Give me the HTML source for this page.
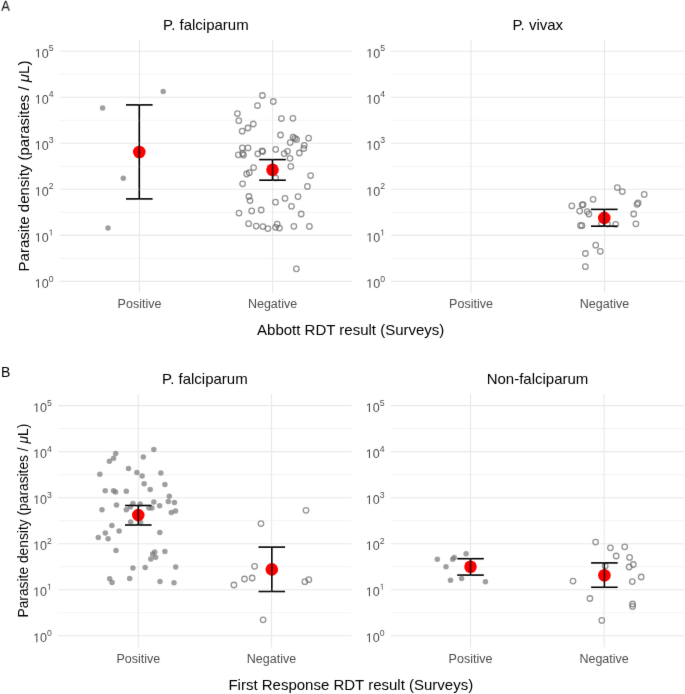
<!DOCTYPE html>
<html><head><meta charset="utf-8"><style>html,body{margin:0;padding:0;background:#fff;width:685px;height:694px;overflow:hidden}</style></head>
<body>
<svg width="685" height="694" viewBox="0 0 685 694" style="display:block;will-change:transform;font-family:'Liberation Sans', sans-serif">
<defs><filter id="bl" x="-5%" y="-5%" width="110%" height="110%"><feConvolveMatrix order="3" kernelMatrix="0.0052 0.0619 0.0052 0.0619 0.7314 0.0619 0.0052 0.0619 0.0052" edgeMode="duplicate" preserveAlpha="false"/></filter></defs>
<rect width="685" height="694" fill="#fff"/>
<g filter="url(#bl)">
<line x1="59.7" x2="352.3" y1="281.40" y2="281.40" stroke="#e8e8e8" stroke-width="1.1"/><line x1="59.7" x2="352.3" y1="235.36" y2="235.36" stroke="#e8e8e8" stroke-width="1.1"/><line x1="59.7" x2="352.3" y1="189.32" y2="189.32" stroke="#e8e8e8" stroke-width="1.1"/><line x1="59.7" x2="352.3" y1="143.28" y2="143.28" stroke="#e8e8e8" stroke-width="1.1"/><line x1="59.7" x2="352.3" y1="97.24" y2="97.24" stroke="#e8e8e8" stroke-width="1.1"/><line x1="59.7" x2="352.3" y1="51.20" y2="51.20" stroke="#e8e8e8" stroke-width="1.1"/><line x1="59.7" x2="352.3" y1="258.38" y2="258.38" stroke="#ededed" stroke-width="0.6"/><line x1="59.7" x2="352.3" y1="212.34" y2="212.34" stroke="#ededed" stroke-width="0.6"/><line x1="59.7" x2="352.3" y1="166.30" y2="166.30" stroke="#ededed" stroke-width="0.6"/><line x1="59.7" x2="352.3" y1="120.26" y2="120.26" stroke="#ededed" stroke-width="0.6"/><line x1="59.7" x2="352.3" y1="74.22" y2="74.22" stroke="#ededed" stroke-width="0.6"/><line x1="139.5" x2="139.5" y1="40.0" y2="292.9" stroke="#e8e8e8" stroke-width="1.1"/><line x1="272.6" x2="272.6" y1="40.0" y2="292.9" stroke="#e8e8e8" stroke-width="1.1"/>
<line x1="391.2" x2="684.4" y1="281.40" y2="281.40" stroke="#e8e8e8" stroke-width="1.1"/><line x1="391.2" x2="684.4" y1="235.36" y2="235.36" stroke="#e8e8e8" stroke-width="1.1"/><line x1="391.2" x2="684.4" y1="189.32" y2="189.32" stroke="#e8e8e8" stroke-width="1.1"/><line x1="391.2" x2="684.4" y1="143.28" y2="143.28" stroke="#e8e8e8" stroke-width="1.1"/><line x1="391.2" x2="684.4" y1="97.24" y2="97.24" stroke="#e8e8e8" stroke-width="1.1"/><line x1="391.2" x2="684.4" y1="51.20" y2="51.20" stroke="#e8e8e8" stroke-width="1.1"/><line x1="391.2" x2="684.4" y1="258.38" y2="258.38" stroke="#ededed" stroke-width="0.6"/><line x1="391.2" x2="684.4" y1="212.34" y2="212.34" stroke="#ededed" stroke-width="0.6"/><line x1="391.2" x2="684.4" y1="166.30" y2="166.30" stroke="#ededed" stroke-width="0.6"/><line x1="391.2" x2="684.4" y1="120.26" y2="120.26" stroke="#ededed" stroke-width="0.6"/><line x1="391.2" x2="684.4" y1="74.22" y2="74.22" stroke="#ededed" stroke-width="0.6"/><line x1="471.0" x2="471.0" y1="40.0" y2="292.9" stroke="#e8e8e8" stroke-width="1.1"/><line x1="604.5" x2="604.5" y1="40.0" y2="292.9" stroke="#e8e8e8" stroke-width="1.1"/>
<line x1="58.1" x2="351.7" y1="635.80" y2="635.80" stroke="#e8e8e8" stroke-width="1.1"/><line x1="58.1" x2="351.7" y1="589.76" y2="589.76" stroke="#e8e8e8" stroke-width="1.1"/><line x1="58.1" x2="351.7" y1="543.72" y2="543.72" stroke="#e8e8e8" stroke-width="1.1"/><line x1="58.1" x2="351.7" y1="497.68" y2="497.68" stroke="#e8e8e8" stroke-width="1.1"/><line x1="58.1" x2="351.7" y1="451.64" y2="451.64" stroke="#e8e8e8" stroke-width="1.1"/><line x1="58.1" x2="351.7" y1="405.60" y2="405.60" stroke="#e8e8e8" stroke-width="1.1"/><line x1="58.1" x2="351.7" y1="612.78" y2="612.78" stroke="#ededed" stroke-width="0.6"/><line x1="58.1" x2="351.7" y1="566.74" y2="566.74" stroke="#ededed" stroke-width="0.6"/><line x1="58.1" x2="351.7" y1="520.70" y2="520.70" stroke="#ededed" stroke-width="0.6"/><line x1="58.1" x2="351.7" y1="474.66" y2="474.66" stroke="#ededed" stroke-width="0.6"/><line x1="58.1" x2="351.7" y1="428.62" y2="428.62" stroke="#ededed" stroke-width="0.6"/><line x1="138.3" x2="138.3" y1="394.2" y2="647.3" stroke="#e8e8e8" stroke-width="1.1"/><line x1="271.5" x2="271.5" y1="394.2" y2="647.3" stroke="#e8e8e8" stroke-width="1.1"/>
<line x1="390.7" x2="684.3" y1="635.80" y2="635.80" stroke="#e8e8e8" stroke-width="1.1"/><line x1="390.7" x2="684.3" y1="589.76" y2="589.76" stroke="#e8e8e8" stroke-width="1.1"/><line x1="390.7" x2="684.3" y1="543.72" y2="543.72" stroke="#e8e8e8" stroke-width="1.1"/><line x1="390.7" x2="684.3" y1="497.68" y2="497.68" stroke="#e8e8e8" stroke-width="1.1"/><line x1="390.7" x2="684.3" y1="451.64" y2="451.64" stroke="#e8e8e8" stroke-width="1.1"/><line x1="390.7" x2="684.3" y1="405.60" y2="405.60" stroke="#e8e8e8" stroke-width="1.1"/><line x1="390.7" x2="684.3" y1="612.78" y2="612.78" stroke="#ededed" stroke-width="0.6"/><line x1="390.7" x2="684.3" y1="566.74" y2="566.74" stroke="#ededed" stroke-width="0.6"/><line x1="390.7" x2="684.3" y1="520.70" y2="520.70" stroke="#ededed" stroke-width="0.6"/><line x1="390.7" x2="684.3" y1="474.66" y2="474.66" stroke="#ededed" stroke-width="0.6"/><line x1="390.7" x2="684.3" y1="428.62" y2="428.62" stroke="#ededed" stroke-width="0.6"/><line x1="470.5" x2="470.5" y1="394.2" y2="647.3" stroke="#e8e8e8" stroke-width="1.1"/><line x1="604.1" x2="604.1" y1="394.2" y2="647.3" stroke="#e8e8e8" stroke-width="1.1"/>
<path d="M515 0L515 1237L197 1010L197 1180L530 1409L696 1409L696 0Z" transform="translate(34.758,287.800) scale(0.00610,-0.00610)" fill="#4d4d4d" stroke="#4d4d4d" stroke-width="0"/><text x="41.710" y="287.800" font-size="12.5" fill="#4d4d4d" stroke="#4d4d4d" stroke-width="0">0</text><text x="48.661" y="281.500" font-size="8.7" fill="#4d4d4d" stroke="#4d4d4d" stroke-width="0">0</text>
<path d="M515 0L515 1237L197 1010L197 1180L530 1409L696 1409L696 0Z" transform="translate(34.758,241.760) scale(0.00610,-0.00610)" fill="#4d4d4d" stroke="#4d4d4d" stroke-width="0"/><text x="41.710" y="241.760" font-size="12.5" fill="#4d4d4d" stroke="#4d4d4d" stroke-width="0">0</text><path d="M515 0L515 1237L197 1010L197 1180L530 1409L696 1409L696 0Z" transform="translate(48.661,235.460) scale(0.00425,-0.00425)" fill="#4d4d4d" stroke="#4d4d4d" stroke-width="0"/>
<path d="M515 0L515 1237L197 1010L197 1180L530 1409L696 1409L696 0Z" transform="translate(34.758,195.720) scale(0.00610,-0.00610)" fill="#4d4d4d" stroke="#4d4d4d" stroke-width="0"/><text x="41.710" y="195.720" font-size="12.5" fill="#4d4d4d" stroke="#4d4d4d" stroke-width="0">0</text><text x="48.661" y="189.420" font-size="8.7" fill="#4d4d4d" stroke="#4d4d4d" stroke-width="0">2</text>
<path d="M515 0L515 1237L197 1010L197 1180L530 1409L696 1409L696 0Z" transform="translate(34.758,149.680) scale(0.00610,-0.00610)" fill="#4d4d4d" stroke="#4d4d4d" stroke-width="0"/><text x="41.710" y="149.680" font-size="12.5" fill="#4d4d4d" stroke="#4d4d4d" stroke-width="0">0</text><text x="48.661" y="143.380" font-size="8.7" fill="#4d4d4d" stroke="#4d4d4d" stroke-width="0">3</text>
<path d="M515 0L515 1237L197 1010L197 1180L530 1409L696 1409L696 0Z" transform="translate(34.758,103.640) scale(0.00610,-0.00610)" fill="#4d4d4d" stroke="#4d4d4d" stroke-width="0"/><text x="41.710" y="103.640" font-size="12.5" fill="#4d4d4d" stroke="#4d4d4d" stroke-width="0">0</text><text x="48.661" y="97.340" font-size="8.7" fill="#4d4d4d" stroke="#4d4d4d" stroke-width="0">4</text>
<path d="M515 0L515 1237L197 1010L197 1180L530 1409L696 1409L696 0Z" transform="translate(34.758,57.600) scale(0.00610,-0.00610)" fill="#4d4d4d" stroke="#4d4d4d" stroke-width="0"/><text x="41.710" y="57.600" font-size="12.5" fill="#4d4d4d" stroke="#4d4d4d" stroke-width="0">0</text><text x="48.661" y="51.300" font-size="8.7" fill="#4d4d4d" stroke="#4d4d4d" stroke-width="0">5</text>
<text x="139.5" y="308.3" text-anchor="middle" font-size="12.5" fill="#4d4d4d" stroke="#4d4d4d" stroke-width="0">Positive</text>
<text x="272.6" y="308.3" text-anchor="middle" font-size="12.5" fill="#4d4d4d" stroke="#4d4d4d" stroke-width="0">Negative</text>
<path d="M515 0L515 1237L197 1010L197 1180L530 1409L696 1409L696 0Z" transform="translate(366.258,287.800) scale(0.00610,-0.00610)" fill="#4d4d4d" stroke="#4d4d4d" stroke-width="0"/><text x="373.210" y="287.800" font-size="12.5" fill="#4d4d4d" stroke="#4d4d4d" stroke-width="0">0</text><text x="380.161" y="281.500" font-size="8.7" fill="#4d4d4d" stroke="#4d4d4d" stroke-width="0">0</text>
<path d="M515 0L515 1237L197 1010L197 1180L530 1409L696 1409L696 0Z" transform="translate(366.258,241.760) scale(0.00610,-0.00610)" fill="#4d4d4d" stroke="#4d4d4d" stroke-width="0"/><text x="373.210" y="241.760" font-size="12.5" fill="#4d4d4d" stroke="#4d4d4d" stroke-width="0">0</text><path d="M515 0L515 1237L197 1010L197 1180L530 1409L696 1409L696 0Z" transform="translate(380.161,235.460) scale(0.00425,-0.00425)" fill="#4d4d4d" stroke="#4d4d4d" stroke-width="0"/>
<path d="M515 0L515 1237L197 1010L197 1180L530 1409L696 1409L696 0Z" transform="translate(366.258,195.720) scale(0.00610,-0.00610)" fill="#4d4d4d" stroke="#4d4d4d" stroke-width="0"/><text x="373.210" y="195.720" font-size="12.5" fill="#4d4d4d" stroke="#4d4d4d" stroke-width="0">0</text><text x="380.161" y="189.420" font-size="8.7" fill="#4d4d4d" stroke="#4d4d4d" stroke-width="0">2</text>
<path d="M515 0L515 1237L197 1010L197 1180L530 1409L696 1409L696 0Z" transform="translate(366.258,149.680) scale(0.00610,-0.00610)" fill="#4d4d4d" stroke="#4d4d4d" stroke-width="0"/><text x="373.210" y="149.680" font-size="12.5" fill="#4d4d4d" stroke="#4d4d4d" stroke-width="0">0</text><text x="380.161" y="143.380" font-size="8.7" fill="#4d4d4d" stroke="#4d4d4d" stroke-width="0">3</text>
<path d="M515 0L515 1237L197 1010L197 1180L530 1409L696 1409L696 0Z" transform="translate(366.258,103.640) scale(0.00610,-0.00610)" fill="#4d4d4d" stroke="#4d4d4d" stroke-width="0"/><text x="373.210" y="103.640" font-size="12.5" fill="#4d4d4d" stroke="#4d4d4d" stroke-width="0">0</text><text x="380.161" y="97.340" font-size="8.7" fill="#4d4d4d" stroke="#4d4d4d" stroke-width="0">4</text>
<path d="M515 0L515 1237L197 1010L197 1180L530 1409L696 1409L696 0Z" transform="translate(366.258,57.600) scale(0.00610,-0.00610)" fill="#4d4d4d" stroke="#4d4d4d" stroke-width="0"/><text x="373.210" y="57.600" font-size="12.5" fill="#4d4d4d" stroke="#4d4d4d" stroke-width="0">0</text><text x="380.161" y="51.300" font-size="8.7" fill="#4d4d4d" stroke="#4d4d4d" stroke-width="0">5</text>
<text x="471.0" y="308.3" text-anchor="middle" font-size="12.5" fill="#4d4d4d" stroke="#4d4d4d" stroke-width="0">Positive</text>
<text x="604.5" y="308.3" text-anchor="middle" font-size="12.5" fill="#4d4d4d" stroke="#4d4d4d" stroke-width="0">Negative</text>
<path d="M515 0L515 1237L197 1010L197 1180L530 1409L696 1409L696 0Z" transform="translate(33.158,642.200) scale(0.00610,-0.00610)" fill="#4d4d4d" stroke="#4d4d4d" stroke-width="0"/><text x="40.110" y="642.200" font-size="12.5" fill="#4d4d4d" stroke="#4d4d4d" stroke-width="0">0</text><text x="47.061" y="635.700" font-size="8.7" fill="#4d4d4d" stroke="#4d4d4d" stroke-width="0">0</text>
<path d="M515 0L515 1237L197 1010L197 1180L530 1409L696 1409L696 0Z" transform="translate(33.158,596.160) scale(0.00610,-0.00610)" fill="#4d4d4d" stroke="#4d4d4d" stroke-width="0"/><text x="40.110" y="596.160" font-size="12.5" fill="#4d4d4d" stroke="#4d4d4d" stroke-width="0">0</text><path d="M515 0L515 1237L197 1010L197 1180L530 1409L696 1409L696 0Z" transform="translate(47.061,589.660) scale(0.00425,-0.00425)" fill="#4d4d4d" stroke="#4d4d4d" stroke-width="0"/>
<path d="M515 0L515 1237L197 1010L197 1180L530 1409L696 1409L696 0Z" transform="translate(33.158,550.120) scale(0.00610,-0.00610)" fill="#4d4d4d" stroke="#4d4d4d" stroke-width="0"/><text x="40.110" y="550.120" font-size="12.5" fill="#4d4d4d" stroke="#4d4d4d" stroke-width="0">0</text><text x="47.061" y="543.620" font-size="8.7" fill="#4d4d4d" stroke="#4d4d4d" stroke-width="0">2</text>
<path d="M515 0L515 1237L197 1010L197 1180L530 1409L696 1409L696 0Z" transform="translate(33.158,504.080) scale(0.00610,-0.00610)" fill="#4d4d4d" stroke="#4d4d4d" stroke-width="0"/><text x="40.110" y="504.080" font-size="12.5" fill="#4d4d4d" stroke="#4d4d4d" stroke-width="0">0</text><text x="47.061" y="497.580" font-size="8.7" fill="#4d4d4d" stroke="#4d4d4d" stroke-width="0">3</text>
<path d="M515 0L515 1237L197 1010L197 1180L530 1409L696 1409L696 0Z" transform="translate(33.158,458.040) scale(0.00610,-0.00610)" fill="#4d4d4d" stroke="#4d4d4d" stroke-width="0"/><text x="40.110" y="458.040" font-size="12.5" fill="#4d4d4d" stroke="#4d4d4d" stroke-width="0">0</text><text x="47.061" y="451.540" font-size="8.7" fill="#4d4d4d" stroke="#4d4d4d" stroke-width="0">4</text>
<path d="M515 0L515 1237L197 1010L197 1180L530 1409L696 1409L696 0Z" transform="translate(33.158,412.000) scale(0.00610,-0.00610)" fill="#4d4d4d" stroke="#4d4d4d" stroke-width="0"/><text x="40.110" y="412.000" font-size="12.5" fill="#4d4d4d" stroke="#4d4d4d" stroke-width="0">0</text><text x="47.061" y="405.500" font-size="8.7" fill="#4d4d4d" stroke="#4d4d4d" stroke-width="0">5</text>
<text x="138.3" y="662.8" text-anchor="middle" font-size="12.5" fill="#4d4d4d" stroke="#4d4d4d" stroke-width="0">Positive</text>
<text x="271.5" y="662.8" text-anchor="middle" font-size="12.5" fill="#4d4d4d" stroke="#4d4d4d" stroke-width="0">Negative</text>
<path d="M515 0L515 1237L197 1010L197 1180L530 1409L696 1409L696 0Z" transform="translate(365.758,642.200) scale(0.00610,-0.00610)" fill="#4d4d4d" stroke="#4d4d4d" stroke-width="0"/><text x="372.710" y="642.200" font-size="12.5" fill="#4d4d4d" stroke="#4d4d4d" stroke-width="0">0</text><text x="379.661" y="635.700" font-size="8.7" fill="#4d4d4d" stroke="#4d4d4d" stroke-width="0">0</text>
<path d="M515 0L515 1237L197 1010L197 1180L530 1409L696 1409L696 0Z" transform="translate(365.758,596.160) scale(0.00610,-0.00610)" fill="#4d4d4d" stroke="#4d4d4d" stroke-width="0"/><text x="372.710" y="596.160" font-size="12.5" fill="#4d4d4d" stroke="#4d4d4d" stroke-width="0">0</text><path d="M515 0L515 1237L197 1010L197 1180L530 1409L696 1409L696 0Z" transform="translate(379.661,589.660) scale(0.00425,-0.00425)" fill="#4d4d4d" stroke="#4d4d4d" stroke-width="0"/>
<path d="M515 0L515 1237L197 1010L197 1180L530 1409L696 1409L696 0Z" transform="translate(365.758,550.120) scale(0.00610,-0.00610)" fill="#4d4d4d" stroke="#4d4d4d" stroke-width="0"/><text x="372.710" y="550.120" font-size="12.5" fill="#4d4d4d" stroke="#4d4d4d" stroke-width="0">0</text><text x="379.661" y="543.620" font-size="8.7" fill="#4d4d4d" stroke="#4d4d4d" stroke-width="0">2</text>
<path d="M515 0L515 1237L197 1010L197 1180L530 1409L696 1409L696 0Z" transform="translate(365.758,504.080) scale(0.00610,-0.00610)" fill="#4d4d4d" stroke="#4d4d4d" stroke-width="0"/><text x="372.710" y="504.080" font-size="12.5" fill="#4d4d4d" stroke="#4d4d4d" stroke-width="0">0</text><text x="379.661" y="497.580" font-size="8.7" fill="#4d4d4d" stroke="#4d4d4d" stroke-width="0">3</text>
<path d="M515 0L515 1237L197 1010L197 1180L530 1409L696 1409L696 0Z" transform="translate(365.758,458.040) scale(0.00610,-0.00610)" fill="#4d4d4d" stroke="#4d4d4d" stroke-width="0"/><text x="372.710" y="458.040" font-size="12.5" fill="#4d4d4d" stroke="#4d4d4d" stroke-width="0">0</text><text x="379.661" y="451.540" font-size="8.7" fill="#4d4d4d" stroke="#4d4d4d" stroke-width="0">4</text>
<path d="M515 0L515 1237L197 1010L197 1180L530 1409L696 1409L696 0Z" transform="translate(365.758,412.000) scale(0.00610,-0.00610)" fill="#4d4d4d" stroke="#4d4d4d" stroke-width="0"/><text x="372.710" y="412.000" font-size="12.5" fill="#4d4d4d" stroke="#4d4d4d" stroke-width="0">0</text><text x="379.661" y="405.500" font-size="8.7" fill="#4d4d4d" stroke="#4d4d4d" stroke-width="0">5</text>
<text x="470.5" y="662.8" text-anchor="middle" font-size="12.5" fill="#4d4d4d" stroke="#4d4d4d" stroke-width="0">Positive</text>
<text x="604.1" y="662.8" text-anchor="middle" font-size="12.5" fill="#4d4d4d" stroke="#4d4d4d" stroke-width="0">Negative</text>
<text x="205.9" y="29.9" text-anchor="middle" font-size="15" fill="#000" stroke="#000" stroke-width="0">P. falciparum</text>
<text x="537.8" y="29.9" text-anchor="middle" font-size="15" fill="#000" stroke="#000" stroke-width="0">P. vivax</text>
<text x="204.9" y="384.1" text-anchor="middle" font-size="15" fill="#000" stroke="#000" stroke-width="0">P. falciparum</text>
<text x="537.5" y="384.1" text-anchor="middle" font-size="15" fill="#000" stroke="#000" stroke-width="0">Non-falciparum</text>
<text x="350.7" y="335.3" text-anchor="middle" font-size="15" fill="#000" stroke="#000" stroke-width="0">Abbott RDT result (Surveys)</text>
<text x="350.8" y="689.6" text-anchor="middle" font-size="15" fill="#000" stroke="#000" stroke-width="0">First Response RDT result (Surveys)</text>
<text transform="translate(29.4,166.0) rotate(-90)" text-anchor="middle" font-size="15" fill="#000" stroke="#000" stroke-width="0">Parasite density (parasites / <tspan font-style="italic">μ</tspan>L)</text>
<text transform="translate(27.6,520.6) rotate(-90)" text-anchor="middle" font-size="13.8" fill="#000" stroke="#000" stroke-width="0">Parasite density (parasites / <tspan font-style="italic">μ</tspan>L)</text>
<text transform="translate(1.35,10.8) scale(0.88,1)" font-size="14.5" fill="#000" stroke="#000" stroke-width="0">A</text>
<text x="0.95" y="376.8" font-size="14" fill="#000" stroke="#000" stroke-width="0">B</text>
<circle cx="102.6" cy="108.0" r="2.75" fill="#7a7a7a" fill-opacity="0.72"/><circle cx="163.2" cy="91.4" r="2.75" fill="#7a7a7a" fill-opacity="0.72"/><circle cx="123.3" cy="178.3" r="2.75" fill="#7a7a7a" fill-opacity="0.72"/><circle cx="108.0" cy="228.0" r="2.75" fill="#7a7a7a" fill-opacity="0.72"/>
<circle cx="115.7" cy="453.5" r="2.75" fill="#7a7a7a" fill-opacity="0.72"/><circle cx="113.6" cy="458.3" r="2.75" fill="#7a7a7a" fill-opacity="0.72"/><circle cx="109.4" cy="461.2" r="2.75" fill="#7a7a7a" fill-opacity="0.72"/><circle cx="143.3" cy="457.1" r="2.75" fill="#7a7a7a" fill-opacity="0.72"/><circle cx="153.8" cy="449.5" r="2.75" fill="#7a7a7a" fill-opacity="0.72"/><circle cx="128.5" cy="468.6" r="2.75" fill="#7a7a7a" fill-opacity="0.72"/><circle cx="99.8" cy="474.2" r="2.75" fill="#7a7a7a" fill-opacity="0.72"/><circle cx="136.9" cy="472.6" r="2.75" fill="#7a7a7a" fill-opacity="0.72"/><circle cx="142.1" cy="475.9" r="2.75" fill="#7a7a7a" fill-opacity="0.72"/><circle cx="160.8" cy="473.0" r="2.75" fill="#7a7a7a" fill-opacity="0.72"/><circle cx="144.1" cy="483.8" r="2.75" fill="#7a7a7a" fill-opacity="0.72"/><circle cx="164.9" cy="484.5" r="2.75" fill="#7a7a7a" fill-opacity="0.72"/><circle cx="150.2" cy="489.5" r="2.75" fill="#7a7a7a" fill-opacity="0.72"/><circle cx="169.3" cy="496.2" r="2.75" fill="#7a7a7a" fill-opacity="0.72"/><circle cx="105.2" cy="490.8" r="2.75" fill="#7a7a7a" fill-opacity="0.72"/><circle cx="113.5" cy="490.7" r="2.75" fill="#7a7a7a" fill-opacity="0.72"/><circle cx="115.6" cy="492.0" r="2.75" fill="#7a7a7a" fill-opacity="0.72"/><circle cx="126.3" cy="491.2" r="2.75" fill="#7a7a7a" fill-opacity="0.72"/><circle cx="116.5" cy="505.0" r="2.75" fill="#7a7a7a" fill-opacity="0.72"/><circle cx="102.0" cy="509.7" r="2.75" fill="#7a7a7a" fill-opacity="0.72"/><circle cx="126.3" cy="509.7" r="2.75" fill="#7a7a7a" fill-opacity="0.72"/><circle cx="130.3" cy="507.1" r="2.75" fill="#7a7a7a" fill-opacity="0.72"/><circle cx="132.9" cy="503.6" r="2.75" fill="#7a7a7a" fill-opacity="0.72"/><circle cx="140.2" cy="504.0" r="2.75" fill="#7a7a7a" fill-opacity="0.72"/><circle cx="148.9" cy="508.1" r="2.75" fill="#7a7a7a" fill-opacity="0.72"/><circle cx="151.9" cy="508.0" r="2.75" fill="#7a7a7a" fill-opacity="0.72"/><circle cx="153.8" cy="502.0" r="2.75" fill="#7a7a7a" fill-opacity="0.72"/><circle cx="168.3" cy="501.4" r="2.75" fill="#7a7a7a" fill-opacity="0.72"/><circle cx="174.4" cy="502.5" r="2.75" fill="#7a7a7a" fill-opacity="0.72"/><circle cx="159.6" cy="505.8" r="2.75" fill="#7a7a7a" fill-opacity="0.72"/><circle cx="171.3" cy="512.5" r="2.75" fill="#7a7a7a" fill-opacity="0.72"/><circle cx="175.5" cy="511.0" r="2.75" fill="#7a7a7a" fill-opacity="0.72"/><circle cx="130.6" cy="522.0" r="2.75" fill="#7a7a7a" fill-opacity="0.72"/><circle cx="140.6" cy="522.4" r="2.75" fill="#7a7a7a" fill-opacity="0.72"/><circle cx="111.9" cy="525.5" r="2.75" fill="#7a7a7a" fill-opacity="0.72"/><circle cx="119.1" cy="530.9" r="2.75" fill="#7a7a7a" fill-opacity="0.72"/><circle cx="105.3" cy="532.9" r="2.75" fill="#7a7a7a" fill-opacity="0.72"/><circle cx="98.3" cy="537.5" r="2.75" fill="#7a7a7a" fill-opacity="0.72"/><circle cx="108.1" cy="538.8" r="2.75" fill="#7a7a7a" fill-opacity="0.72"/><circle cx="159.8" cy="532.4" r="2.75" fill="#7a7a7a" fill-opacity="0.72"/><circle cx="116.0" cy="550.5" r="2.75" fill="#7a7a7a" fill-opacity="0.72"/><circle cx="150.8" cy="559.1" r="2.75" fill="#7a7a7a" fill-opacity="0.72"/><circle cx="132.9" cy="567.9" r="2.75" fill="#7a7a7a" fill-opacity="0.72"/><circle cx="145.2" cy="567.6" r="2.75" fill="#7a7a7a" fill-opacity="0.72"/><circle cx="109.7" cy="578.8" r="2.75" fill="#7a7a7a" fill-opacity="0.72"/><circle cx="112.1" cy="582.5" r="2.75" fill="#7a7a7a" fill-opacity="0.72"/><circle cx="129.7" cy="578.5" r="2.75" fill="#7a7a7a" fill-opacity="0.72"/><circle cx="154.7" cy="552.0" r="2.75" fill="#7a7a7a" fill-opacity="0.72"/><circle cx="152.6" cy="554.0" r="2.75" fill="#7a7a7a" fill-opacity="0.72"/><circle cx="155.6" cy="557.3" r="2.75" fill="#7a7a7a" fill-opacity="0.72"/><circle cx="164.9" cy="551.6" r="2.75" fill="#7a7a7a" fill-opacity="0.72"/><circle cx="175.7" cy="566.9" r="2.75" fill="#7a7a7a" fill-opacity="0.72"/><circle cx="160.0" cy="581.6" r="2.75" fill="#7a7a7a" fill-opacity="0.72"/><circle cx="174.0" cy="582.7" r="2.75" fill="#7a7a7a" fill-opacity="0.72"/>
<circle cx="437.3" cy="559.3" r="2.75" fill="#7a7a7a" fill-opacity="0.72"/><circle cx="454.2" cy="557.4" r="2.75" fill="#7a7a7a" fill-opacity="0.72"/><circle cx="452.7" cy="559.3" r="2.75" fill="#7a7a7a" fill-opacity="0.72"/><circle cx="466.1" cy="553.7" r="2.75" fill="#7a7a7a" fill-opacity="0.72"/><circle cx="446.0" cy="566.8" r="2.75" fill="#7a7a7a" fill-opacity="0.72"/><circle cx="450.5" cy="580.3" r="2.75" fill="#7a7a7a" fill-opacity="0.72"/><circle cx="461.6" cy="578.4" r="2.75" fill="#7a7a7a" fill-opacity="0.72"/><circle cx="485.4" cy="581.7" r="2.75" fill="#7a7a7a" fill-opacity="0.72"/>
<circle cx="262.4" cy="95.5" r="2.75" fill="none" stroke="#6a6a6a" stroke-opacity="0.72" stroke-width="1.3"/><circle cx="273.3" cy="101.5" r="2.75" fill="none" stroke="#6a6a6a" stroke-opacity="0.72" stroke-width="1.3"/><circle cx="257.5" cy="105.6" r="2.75" fill="none" stroke="#6a6a6a" stroke-opacity="0.72" stroke-width="1.3"/><circle cx="237.4" cy="113.6" r="2.75" fill="none" stroke="#6a6a6a" stroke-opacity="0.72" stroke-width="1.3"/><circle cx="238.8" cy="120.7" r="2.75" fill="none" stroke="#6a6a6a" stroke-opacity="0.72" stroke-width="1.3"/><circle cx="253.3" cy="124.0" r="2.75" fill="none" stroke="#6a6a6a" stroke-opacity="0.72" stroke-width="1.3"/><circle cx="247.9" cy="128.0" r="2.75" fill="none" stroke="#6a6a6a" stroke-opacity="0.72" stroke-width="1.3"/><circle cx="242.2" cy="131.2" r="2.75" fill="none" stroke="#6a6a6a" stroke-opacity="0.72" stroke-width="1.3"/><circle cx="281.4" cy="118.6" r="2.75" fill="none" stroke="#6a6a6a" stroke-opacity="0.72" stroke-width="1.3"/><circle cx="292.9" cy="118.3" r="2.75" fill="none" stroke="#6a6a6a" stroke-opacity="0.72" stroke-width="1.3"/><circle cx="280.5" cy="135.0" r="2.75" fill="none" stroke="#6a6a6a" stroke-opacity="0.72" stroke-width="1.3"/><circle cx="293.1" cy="137.2" r="2.75" fill="none" stroke="#6a6a6a" stroke-opacity="0.72" stroke-width="1.3"/><circle cx="294.8" cy="138.3" r="2.75" fill="none" stroke="#6a6a6a" stroke-opacity="0.72" stroke-width="1.3"/><circle cx="296.5" cy="139.4" r="2.75" fill="none" stroke="#6a6a6a" stroke-opacity="0.72" stroke-width="1.3"/><circle cx="308.6" cy="138.2" r="2.75" fill="none" stroke="#6a6a6a" stroke-opacity="0.72" stroke-width="1.3"/><circle cx="290.2" cy="142.6" r="2.75" fill="none" stroke="#6a6a6a" stroke-opacity="0.72" stroke-width="1.3"/><circle cx="304.3" cy="145.3" r="2.75" fill="none" stroke="#6a6a6a" stroke-opacity="0.72" stroke-width="1.3"/><circle cx="303.8" cy="148.5" r="2.75" fill="none" stroke="#6a6a6a" stroke-opacity="0.72" stroke-width="1.3"/><circle cx="275.7" cy="149.4" r="2.75" fill="none" stroke="#6a6a6a" stroke-opacity="0.72" stroke-width="1.3"/><circle cx="287.5" cy="151.3" r="2.75" fill="none" stroke="#6a6a6a" stroke-opacity="0.72" stroke-width="1.3"/><circle cx="284.2" cy="153.6" r="2.75" fill="none" stroke="#6a6a6a" stroke-opacity="0.72" stroke-width="1.3"/><circle cx="299.3" cy="153.0" r="2.75" fill="none" stroke="#6a6a6a" stroke-opacity="0.72" stroke-width="1.3"/><circle cx="290.0" cy="158.3" r="2.75" fill="none" stroke="#6a6a6a" stroke-opacity="0.72" stroke-width="1.3"/><circle cx="290.8" cy="166.4" r="2.75" fill="none" stroke="#6a6a6a" stroke-opacity="0.72" stroke-width="1.3"/><circle cx="310.6" cy="175.6" r="2.75" fill="none" stroke="#6a6a6a" stroke-opacity="0.72" stroke-width="1.3"/><circle cx="275.6" cy="178.0" r="2.75" fill="none" stroke="#6a6a6a" stroke-opacity="0.72" stroke-width="1.3"/><circle cx="307.4" cy="186.4" r="2.75" fill="none" stroke="#6a6a6a" stroke-opacity="0.72" stroke-width="1.3"/><circle cx="242.3" cy="147.9" r="2.75" fill="none" stroke="#6a6a6a" stroke-opacity="0.72" stroke-width="1.3"/><circle cx="248.0" cy="147.9" r="2.75" fill="none" stroke="#6a6a6a" stroke-opacity="0.72" stroke-width="1.3"/><circle cx="238.3" cy="154.8" r="2.75" fill="none" stroke="#6a6a6a" stroke-opacity="0.72" stroke-width="1.3"/><circle cx="242.6" cy="153.5" r="2.75" fill="none" stroke="#6a6a6a" stroke-opacity="0.72" stroke-width="1.3"/><circle cx="243.4" cy="155.0" r="2.75" fill="none" stroke="#6a6a6a" stroke-opacity="0.72" stroke-width="1.3"/><circle cx="257.8" cy="153.8" r="2.75" fill="none" stroke="#6a6a6a" stroke-opacity="0.72" stroke-width="1.3"/><circle cx="262.1" cy="150.9" r="2.75" fill="none" stroke="#6a6a6a" stroke-opacity="0.72" stroke-width="1.3"/><circle cx="262.7" cy="151.6" r="2.75" fill="none" stroke="#6a6a6a" stroke-opacity="0.72" stroke-width="1.3"/><circle cx="253.6" cy="167.6" r="2.75" fill="none" stroke="#6a6a6a" stroke-opacity="0.72" stroke-width="1.3"/><circle cx="246.7" cy="174.0" r="2.75" fill="none" stroke="#6a6a6a" stroke-opacity="0.72" stroke-width="1.3"/><circle cx="249.3" cy="172.7" r="2.75" fill="none" stroke="#6a6a6a" stroke-opacity="0.72" stroke-width="1.3"/><circle cx="242.6" cy="183.8" r="2.75" fill="none" stroke="#6a6a6a" stroke-opacity="0.72" stroke-width="1.3"/><circle cx="248.9" cy="196.5" r="2.75" fill="none" stroke="#6a6a6a" stroke-opacity="0.72" stroke-width="1.3"/><circle cx="250.0" cy="200.6" r="2.75" fill="none" stroke="#6a6a6a" stroke-opacity="0.72" stroke-width="1.3"/><circle cx="275.5" cy="202.2" r="2.75" fill="none" stroke="#6a6a6a" stroke-opacity="0.72" stroke-width="1.3"/><circle cx="239.0" cy="213.1" r="2.75" fill="none" stroke="#6a6a6a" stroke-opacity="0.72" stroke-width="1.3"/><circle cx="251.7" cy="210.9" r="2.75" fill="none" stroke="#6a6a6a" stroke-opacity="0.72" stroke-width="1.3"/><circle cx="261.2" cy="210.0" r="2.75" fill="none" stroke="#6a6a6a" stroke-opacity="0.72" stroke-width="1.3"/><circle cx="248.6" cy="223.7" r="2.75" fill="none" stroke="#6a6a6a" stroke-opacity="0.72" stroke-width="1.3"/><circle cx="256.2" cy="226.1" r="2.75" fill="none" stroke="#6a6a6a" stroke-opacity="0.72" stroke-width="1.3"/><circle cx="262.9" cy="226.6" r="2.75" fill="none" stroke="#6a6a6a" stroke-opacity="0.72" stroke-width="1.3"/><circle cx="267.9" cy="228.6" r="2.75" fill="none" stroke="#6a6a6a" stroke-opacity="0.72" stroke-width="1.3"/><circle cx="277.2" cy="224.2" r="2.75" fill="none" stroke="#6a6a6a" stroke-opacity="0.72" stroke-width="1.3"/><circle cx="275.5" cy="227.3" r="2.75" fill="none" stroke="#6a6a6a" stroke-opacity="0.72" stroke-width="1.3"/><circle cx="279.4" cy="228.1" r="2.75" fill="none" stroke="#6a6a6a" stroke-opacity="0.72" stroke-width="1.3"/><circle cx="293.9" cy="226.3" r="2.75" fill="none" stroke="#6a6a6a" stroke-opacity="0.72" stroke-width="1.3"/><circle cx="309.4" cy="226.4" r="2.75" fill="none" stroke="#6a6a6a" stroke-opacity="0.72" stroke-width="1.3"/><circle cx="298.0" cy="196.6" r="2.75" fill="none" stroke="#6a6a6a" stroke-opacity="0.72" stroke-width="1.3"/><circle cx="285.0" cy="198.4" r="2.75" fill="none" stroke="#6a6a6a" stroke-opacity="0.72" stroke-width="1.3"/><circle cx="291.5" cy="206.3" r="2.75" fill="none" stroke="#6a6a6a" stroke-opacity="0.72" stroke-width="1.3"/><circle cx="301.2" cy="214.0" r="2.75" fill="none" stroke="#6a6a6a" stroke-opacity="0.72" stroke-width="1.3"/><circle cx="296.35" cy="268.8" r="2.75" fill="none" stroke="#6a6a6a" stroke-opacity="0.72" stroke-width="1.3"/>
<circle cx="617.3" cy="187.6" r="2.75" fill="none" stroke="#6a6a6a" stroke-opacity="0.72" stroke-width="1.3"/><circle cx="622.3" cy="191.6" r="2.75" fill="none" stroke="#6a6a6a" stroke-opacity="0.72" stroke-width="1.3"/><circle cx="644.2" cy="194.4" r="2.75" fill="none" stroke="#6a6a6a" stroke-opacity="0.72" stroke-width="1.3"/><circle cx="593.1" cy="199.3" r="2.75" fill="none" stroke="#6a6a6a" stroke-opacity="0.72" stroke-width="1.3"/><circle cx="571.8" cy="205.9" r="2.75" fill="none" stroke="#6a6a6a" stroke-opacity="0.72" stroke-width="1.3"/><circle cx="582.1" cy="204.9" r="2.75" fill="none" stroke="#6a6a6a" stroke-opacity="0.72" stroke-width="1.3"/><circle cx="583.1" cy="204.6" r="2.75" fill="none" stroke="#6a6a6a" stroke-opacity="0.72" stroke-width="1.3"/><circle cx="579.7" cy="211.1" r="2.75" fill="none" stroke="#6a6a6a" stroke-opacity="0.72" stroke-width="1.3"/><circle cx="587.2" cy="211.6" r="2.75" fill="none" stroke="#6a6a6a" stroke-opacity="0.72" stroke-width="1.3"/><circle cx="588.9" cy="214.0" r="2.75" fill="none" stroke="#6a6a6a" stroke-opacity="0.72" stroke-width="1.3"/><circle cx="580.5" cy="225.4" r="2.75" fill="none" stroke="#6a6a6a" stroke-opacity="0.72" stroke-width="1.3"/><circle cx="582.0" cy="225.7" r="2.75" fill="none" stroke="#6a6a6a" stroke-opacity="0.72" stroke-width="1.3"/><circle cx="601.5" cy="223.5" r="2.75" fill="none" stroke="#6a6a6a" stroke-opacity="0.72" stroke-width="1.3"/><circle cx="607.4" cy="224.1" r="2.75" fill="none" stroke="#6a6a6a" stroke-opacity="0.72" stroke-width="1.3"/><circle cx="615.7" cy="224.3" r="2.75" fill="none" stroke="#6a6a6a" stroke-opacity="0.72" stroke-width="1.3"/><circle cx="635.9" cy="223.8" r="2.75" fill="none" stroke="#6a6a6a" stroke-opacity="0.72" stroke-width="1.3"/><circle cx="633.7" cy="214.0" r="2.75" fill="none" stroke="#6a6a6a" stroke-opacity="0.72" stroke-width="1.3"/><circle cx="637.0" cy="204.3" r="2.75" fill="none" stroke="#6a6a6a" stroke-opacity="0.72" stroke-width="1.3"/><circle cx="638.1" cy="203.0" r="2.75" fill="none" stroke="#6a6a6a" stroke-opacity="0.72" stroke-width="1.3"/><circle cx="595.7" cy="245.2" r="2.75" fill="none" stroke="#6a6a6a" stroke-opacity="0.72" stroke-width="1.3"/><circle cx="600.3" cy="251.3" r="2.75" fill="none" stroke="#6a6a6a" stroke-opacity="0.72" stroke-width="1.3"/><circle cx="585.4" cy="253.5" r="2.75" fill="none" stroke="#6a6a6a" stroke-opacity="0.72" stroke-width="1.3"/><circle cx="585.4" cy="266.7" r="2.75" fill="none" stroke="#6a6a6a" stroke-opacity="0.72" stroke-width="1.3"/>
<circle cx="306.0" cy="510.3" r="2.75" fill="none" stroke="#6a6a6a" stroke-opacity="0.72" stroke-width="1.3"/><circle cx="261.0" cy="523.6" r="2.75" fill="none" stroke="#6a6a6a" stroke-opacity="0.72" stroke-width="1.3"/><circle cx="254.6" cy="566.3" r="2.75" fill="none" stroke="#6a6a6a" stroke-opacity="0.72" stroke-width="1.3"/><circle cx="244.5" cy="579.0" r="2.75" fill="none" stroke="#6a6a6a" stroke-opacity="0.72" stroke-width="1.3"/><circle cx="252.2" cy="578.0" r="2.75" fill="none" stroke="#6a6a6a" stroke-opacity="0.72" stroke-width="1.3"/><circle cx="233.9" cy="585.0" r="2.75" fill="none" stroke="#6a6a6a" stroke-opacity="0.72" stroke-width="1.3"/><circle cx="304.9" cy="581.7" r="2.75" fill="none" stroke="#6a6a6a" stroke-opacity="0.72" stroke-width="1.3"/><circle cx="308.8" cy="579.7" r="2.75" fill="none" stroke="#6a6a6a" stroke-opacity="0.72" stroke-width="1.3"/><circle cx="263.1" cy="619.8" r="2.75" fill="none" stroke="#6a6a6a" stroke-opacity="0.72" stroke-width="1.3"/>
<circle cx="595.6" cy="542.1" r="2.75" fill="none" stroke="#6a6a6a" stroke-opacity="0.72" stroke-width="1.3"/><circle cx="610.4" cy="547.8" r="2.75" fill="none" stroke="#6a6a6a" stroke-opacity="0.72" stroke-width="1.3"/><circle cx="624.7" cy="546.8" r="2.75" fill="none" stroke="#6a6a6a" stroke-opacity="0.72" stroke-width="1.3"/><circle cx="616.2" cy="556.0" r="2.75" fill="none" stroke="#6a6a6a" stroke-opacity="0.72" stroke-width="1.3"/><circle cx="629.6" cy="557.4" r="2.75" fill="none" stroke="#6a6a6a" stroke-opacity="0.72" stroke-width="1.3"/><circle cx="633.3" cy="564.5" r="2.75" fill="none" stroke="#6a6a6a" stroke-opacity="0.72" stroke-width="1.3"/><circle cx="629.2" cy="567.0" r="2.75" fill="none" stroke="#6a6a6a" stroke-opacity="0.72" stroke-width="1.3"/><circle cx="605.2" cy="565.9" r="2.75" fill="none" stroke="#6a6a6a" stroke-opacity="0.72" stroke-width="1.3"/><circle cx="641.2" cy="577.0" r="2.75" fill="none" stroke="#6a6a6a" stroke-opacity="0.72" stroke-width="1.3"/><circle cx="632.3" cy="581.6" r="2.75" fill="none" stroke="#6a6a6a" stroke-opacity="0.72" stroke-width="1.3"/><circle cx="573.0" cy="581.1" r="2.75" fill="none" stroke="#6a6a6a" stroke-opacity="0.72" stroke-width="1.3"/><circle cx="589.9" cy="598.5" r="2.75" fill="none" stroke="#6a6a6a" stroke-opacity="0.72" stroke-width="1.3"/><circle cx="632.6" cy="604.0" r="2.75" fill="none" stroke="#6a6a6a" stroke-opacity="0.72" stroke-width="1.3"/><circle cx="632.6" cy="606.4" r="2.75" fill="none" stroke="#6a6a6a" stroke-opacity="0.72" stroke-width="1.3"/><circle cx="601.8" cy="620.4" r="2.75" fill="none" stroke="#6a6a6a" stroke-opacity="0.72" stroke-width="1.3"/>
<circle cx="139.3" cy="152.0" r="6.3" fill="#ff0000"/>
<line x1="139.3" x2="139.3" y1="104.9" y2="198.9" stroke="#000" stroke-width="1.6"/>
<line x1="126.00" x2="152.60" y1="104.9" y2="104.9" stroke="#000" stroke-width="1.6"/>
<line x1="126.00" x2="152.60" y1="198.9" y2="198.9" stroke="#000" stroke-width="1.6"/>
<circle cx="272.5" cy="169.8" r="6.3" fill="#ff0000"/>
<line x1="272.5" x2="272.5" y1="159.6" y2="180.2" stroke="#000" stroke-width="1.6"/>
<line x1="259.20" x2="285.80" y1="159.6" y2="159.6" stroke="#000" stroke-width="1.6"/>
<line x1="259.20" x2="285.80" y1="180.2" y2="180.2" stroke="#000" stroke-width="1.6"/>
<circle cx="604.3" cy="217.9" r="6.3" fill="#ff0000"/>
<line x1="604.3" x2="604.3" y1="209.4" y2="226.2" stroke="#000" stroke-width="1.6"/>
<line x1="591.00" x2="617.60" y1="209.4" y2="209.4" stroke="#000" stroke-width="1.6"/>
<line x1="591.00" x2="617.60" y1="226.2" y2="226.2" stroke="#000" stroke-width="1.6"/>
<circle cx="138.3" cy="515.1" r="6.3" fill="#ff0000"/>
<line x1="138.3" x2="138.3" y1="505.5" y2="525.0" stroke="#000" stroke-width="1.6"/>
<line x1="125.00" x2="151.60" y1="505.5" y2="505.5" stroke="#000" stroke-width="1.6"/>
<line x1="125.00" x2="151.60" y1="525.0" y2="525.0" stroke="#000" stroke-width="1.6"/>
<circle cx="271.8" cy="569.4" r="6.3" fill="#ff0000"/>
<line x1="271.8" x2="271.8" y1="547.1" y2="591.5" stroke="#000" stroke-width="1.6"/>
<line x1="258.50" x2="285.10" y1="547.1" y2="547.1" stroke="#000" stroke-width="1.6"/>
<line x1="258.50" x2="285.10" y1="591.5" y2="591.5" stroke="#000" stroke-width="1.6"/>
<circle cx="470.5" cy="566.8" r="6.3" fill="#ff0000"/>
<line x1="470.5" x2="470.5" y1="558.7" y2="575.1" stroke="#000" stroke-width="1.6"/>
<line x1="457.20" x2="483.80" y1="558.7" y2="558.7" stroke="#000" stroke-width="1.6"/>
<line x1="457.20" x2="483.80" y1="575.1" y2="575.1" stroke="#000" stroke-width="1.6"/>
<circle cx="604.4" cy="575.2" r="6.3" fill="#ff0000"/>
<line x1="604.4" x2="604.4" y1="562.9" y2="587.3" stroke="#000" stroke-width="1.6"/>
<line x1="591.10" x2="617.70" y1="562.9" y2="562.9" stroke="#000" stroke-width="1.6"/>
<line x1="591.10" x2="617.70" y1="587.3" y2="587.3" stroke="#000" stroke-width="1.6"/>
</g></svg>
</body></html>
